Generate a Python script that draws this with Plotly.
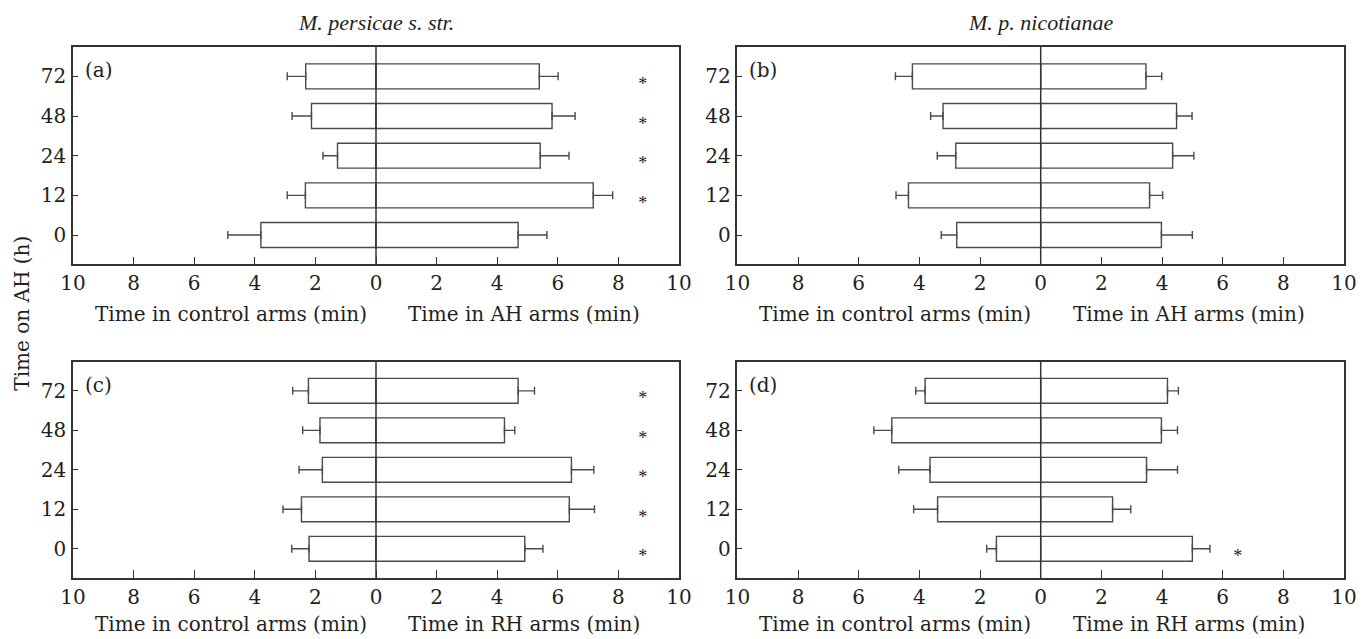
import plotly.graph_objects as go
from plotly.subplots import make_subplots

times = ["0", "12", "24", "48", "72"]

# Panel (a): M. persicae s. str., AH
a_ctrl = [3.80, 2.33, 1.27, 2.13, 2.32]
a_ctrl_se = [1.09, 0.60, 0.48, 0.64, 0.61]
a_trt = [4.69, 7.17, 5.42, 5.81, 5.39]
a_trt_se = [0.95, 0.64, 0.95, 0.76, 0.62]
a_sig = [False, True, True, True, True]

# Panel (b): M. p. nicotianae, AH
b_ctrl = [2.77, 4.36, 2.80, 3.22, 4.23]
b_ctrl_se = [0.51, 0.41, 0.61, 0.41, 0.56]
b_trt = [3.98, 3.59, 4.35, 4.48, 3.47]
b_trt_se = [1.02, 0.43, 0.70, 0.51, 0.52]
b_sig = [False, False, False, False, False]

# Panel (c): M. persicae s. str., RH
c_ctrl = [2.21, 2.46, 1.77, 1.85, 2.23]
c_ctrl_se = [0.57, 0.61, 0.77, 0.57, 0.52]
c_trt = [4.91, 6.38, 6.45, 4.24, 4.69]
c_trt_se = [0.60, 0.83, 0.74, 0.34, 0.54]
c_sig = [True, True, True, True, True]

# Panel (d): M. p. nicotianae, RH
d_ctrl = [1.46, 3.40, 3.65, 4.91, 3.81]
d_ctrl_se = [0.32, 0.79, 1.03, 0.59, 0.31]
d_trt = [5.00, 2.37, 3.49, 3.98, 4.18]
d_trt_se = [0.58, 0.60, 1.02, 0.53, 0.36]
d_sig = [True, False, False, False, False]

star_x = {"a": 8.8, "b": 8.8, "c": 8.8, "d": 6.5}

panel_labels = ["(a)", "(b)", "(c)", "(d)"]
col_titles = ["M. persicae s. str.", "M. p. nicotianae"]
right_titles = ["Time in AH arms (min)", "Time in AH arms (min)",
                "Time in RH arms (min)", "Time in RH arms (min)"]
left_title = "Time in control arms (min)"
y_title = "Time on AH (h)"

tick_vals = [-10, -8, -6, -4, -2, 0, 2, 4, 6, 8, 10]
tick_text = [str(abs(v)) for v in tick_vals]

FONT = "DejaVu Serif"
TITLE_FONT = "Liberation Serif"
FS = 20
INK = "#231f20"
LINE = "#4a4a4a"

panels = [
    ("a", 1, 1, a_ctrl, a_ctrl_se, a_trt, a_trt_se, a_sig),
    ("b", 1, 2, b_ctrl, b_ctrl_se, b_trt, b_trt_se, b_sig),
    ("c", 2, 1, c_ctrl, c_ctrl_se, c_trt, c_trt_se, c_sig),
    ("d", 2, 2, d_ctrl, d_ctrl_se, d_trt, d_trt_se, d_sig),
]

fig = make_subplots(rows=2, cols=2)

for i, (key, r, c, ctrl, ctrl_se, trt, trt_se, sig) in enumerate(panels):
    fig.add_trace(go.Bar(
        x=[-v for v in ctrl], y=times, orientation="h", width=0.63,
        marker=dict(color="white", line=dict(color=LINE, width=1.4)),
        error_x=dict(type="data", symmetric=False, array=[0] * len(ctrl),
                     arrayminus=ctrl_se, color=LINE, thickness=1.4, width=4),
        showlegend=False, hoverinfo="skip"), row=r, col=c)
    fig.add_trace(go.Bar(
        x=trt, y=times, orientation="h", width=0.63,
        marker=dict(color="white", line=dict(color=LINE, width=1.4)),
        error_x=dict(type="data", symmetric=False, array=trt_se,
                     arrayminus=[0] * len(trt), color=LINE, thickness=1.4, width=4),
        showlegend=False, hoverinfo="skip"), row=r, col=c)
    sy = [t for t, s in zip(times, sig) if s]
    if sy:
        fig.add_trace(go.Scatter(
            x=[star_x[key]] * len(sy), y=sy, mode="text", text=["*"] * len(sy),
            textposition="bottom center",
            textfont=dict(family=TITLE_FONT, size=18, color=INK),
            showlegend=False, hoverinfo="skip"), row=r, col=c)

fig.update_layout(barmode="overlay")

# The page body adds an 8 px offset, so the figure is laid out 8 px smaller.
OFF = 8
W, H = 1371 - OFF, 639 - OFF
ml, mr, mt, mb = 73.3 - OFF, 26.7, 46.7 - OFF, 60.7
pw = W - ml - mr
ph = H - mt - mb
xdom = [[0, (679.3 - 73.3) / pw], [(737.7 - 73.3) / pw, 1]]
ydom = [[1 - (264.3 - 46.7) / ph, 1], [0, 1 - (361.7 - 46.7) / ph]]
title_shift = {1: -50, 2: -46}

axis_common = dict(showline=True, mirror=True, linecolor="#333333", linewidth=1.5,
                   showgrid=False, zeroline=False, ticks="inside",
                   tickcolor="#333333", tickfont=dict(family=FONT, size=FS, color=INK))

for idx, (key, r, c, *_rest) in enumerate(panels):
    n = idx + 1
    xa = "xaxis" if n == 1 else f"xaxis{n}"
    ya = "yaxis" if n == 1 else f"yaxis{n}"
    fig.layout[xa].update(domain=xdom[c - 1], range=[-10, 10], tickvals=tick_vals,
                          ticktext=tick_text, ticklen=8, **axis_common)
    fig.layout[ya].update(domain=ydom[r - 1], type="category", categoryorder="array",
                          categoryarray=times, range=[-0.74, 4.74], ticklen=5,
                          ticklabelstandoff=1, **axis_common)
    xref = "x" if n == 1 else f"x{n}"
    yref = "y" if n == 1 else f"y{n}"
    # centre line
    fig.add_shape(type="line", xref=xref, yref=f"{yref} domain", x0=0, x1=0, y0=0, y1=1,
                  line=dict(color="#333333", width=1.5), layer="above")
    # panel letter
    fig.add_annotation(text=panel_labels[idx], xref=f"{xref} domain", yref=f"{yref} domain",
                       x=0.016, y=0.893, xanchor="left", yanchor="middle", showarrow=False,
                       font=dict(family=FONT, size=FS, color=INK))
    # axis titles
    fig.add_annotation(text=left_title, xref=xref, yref=f"{yref} domain",
                       x=-4.8, y=0, yshift=title_shift[r], xanchor="center", yanchor="middle",
                       showarrow=False, font=dict(family=FONT, size=FS, color=INK))
    fig.add_annotation(text=right_titles[idx], xref=xref, yref=f"{yref} domain",
                       x=4.9, y=0, yshift=title_shift[r], xanchor="center", yanchor="middle",
                       showarrow=False, font=dict(family=FONT, size=FS, color=INK))

for ci, t in enumerate(col_titles):
    fig.add_annotation(text=f"<i>{t}</i>", xref="paper", yref="paper",
                       x=(xdom[ci][0] + xdom[ci][1]) / 2, y=1 + (46.7 - 22) / ph,
                       xanchor="center", yanchor="middle", showarrow=False,
                       font=dict(family=TITLE_FONT, size=22, color=INK))

fig.add_annotation(text=y_title, xref="paper", yref="paper",
                   x=(22 - 73.3) / pw, y=1 - (313 - 46.7) / ph, textangle=-90,
                   xanchor="center", yanchor="middle", showarrow=False,
                   font=dict(family=FONT, size=FS, color=INK))

fig.update_layout(width=W, height=H, margin=dict(l=ml, r=mr, t=mt, b=mb),
                  paper_bgcolor="white", plot_bgcolor="white",
                  font=dict(family=FONT, color=INK))

fig.write_html("out.html")
